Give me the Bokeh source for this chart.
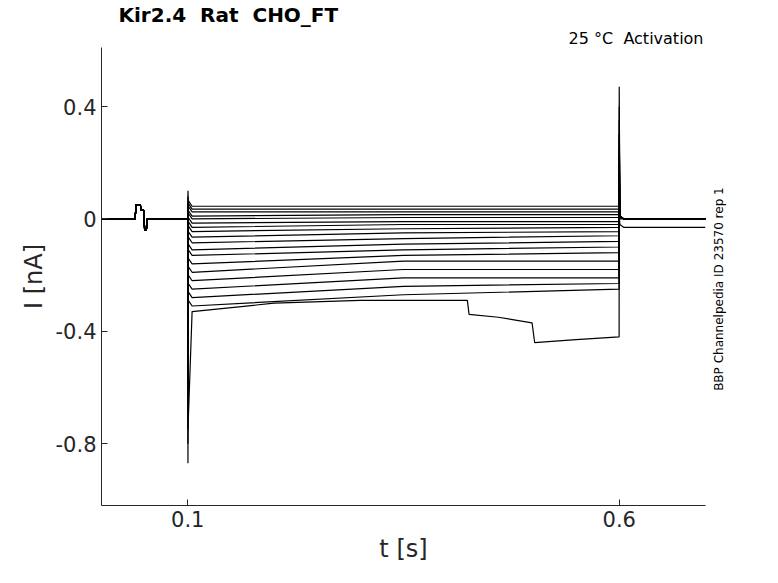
from bokeh.plotting import figure
from bokeh.models import FixedTicker, LinearAxis, Title
from bokeh.embed import file_html
from bokeh.resources import INLINE

# step levels (nA) for each sweep: at step start, middle, and end of step
level_start = [0.045, 0.035, 0.025, 0.01, 0.0, -0.015, -0.03, -0.045, -0.065, -0.085, -0.11, -0.13, -0.16, -0.19, -0.22, -0.25, -0.28, -0.31]
level_mid   = [0.045, 0.035, 0.025, 0.015, 0.005, -0.01, -0.02, -0.035, -0.05, -0.07, -0.09, -0.11, -0.13, -0.15, -0.18, -0.21, -0.24, -0.27]
level_end   = [0.045, 0.035, 0.025, 0.015, 0.005, -0.01, -0.02, -0.03, -0.045, -0.06, -0.08, -0.10, -0.12, -0.15, -0.18, -0.21, -0.23, -0.25]
onset_spike = [0.10, 0.08, 0.06, 0.04, 0.02, 0.0, -0.05, -0.1, -0.15, -0.2, -0.25, -0.3, -0.4, -0.5, -0.6, -0.7, -0.8, -0.87]
offset_spike = [0.47, 0.4, 0.35, 0.3, 0.25, 0.2, 0.18, 0.15, 0.12, 0.1, 0.08, 0.06, 0.05, 0.04, 0.03, 0.02, 0.02, 0.01]
tail_level  = [0.0] * 17 + [-0.03]

# irregular sweep with drops
odd_t = [0.1, 0.1002, 0.105, 0.2, 0.3, 0.424, 0.426, 0.46, 0.499, 0.502, 0.55, 0.5999, 0.6, 0.601, 0.605, 0.7]
odd_i = [0.0, -0.75, -0.33, -0.3, -0.29, -0.29, -0.34, -0.35, -0.37, -0.44, -0.43, -0.42, 0.3, 0.0, 0.0, 0.0]

pre_t = [0.0, 0.039, 0.040, 0.045, 0.046, 0.049, 0.050, 0.052, 0.053, 0.0995]
pre_i = [0.0, 0.0, 0.05, 0.05, 0.03, 0.03, -0.04, -0.04, 0.0, 0.0]

NB = "\u00a0"
p = figure(width=760, height=565, output_backend="svg", toolbar_location=None,
           x_range=(0.0, 0.7), y_range=(-1.02, 0.61),
           min_border_left=101, min_border_right=55, min_border_top=40, min_border_bottom=53)
p.title.visible = False
p.outline_line_color = None
p.xgrid.visible = False
p.ygrid.visible = False

sub = Title(text="25 °C" + NB + NB + "Activation", align="right", text_font="DejaVu Sans",
            text_font_size="16px", text_font_style="normal", text_color="black", standoff=0, offset=2)
main = Title(text="Kir2.4" + NB + NB + "Rat" + NB + NB + "CHO_FT", align="left", text_font="DejaVu Sans",
             text_font_size="20px", text_font_style="bold", text_color="black", offset=17, standoff=0)
p.add_layout(sub, "above")
p.add_layout(main, "above")

for k in range(len(level_start)):
    t = pre_t + [0.1, 0.1002, 0.1006, 0.105, 0.35, 0.5999, 0.6, 0.6008, 0.605, 0.7]
    i = pre_i + [0.0, onset_spike[k], level_start[k] + 0.02, level_start[k], level_mid[k], level_end[k],
                 offset_spike[k], tail_level[k] + 0.01, tail_level[k], tail_level[k]]
    p.line(t, i, color="black", line_width=1.2)
p.line(odd_t, odd_i, color="black", line_width=1.2)

for ax in (p.xaxis[0], p.yaxis[0]):
    ax.major_label_text_font = "DejaVu Sans"
    ax.major_label_text_font_size = "21px"
    ax.major_label_text_color = "#262626"
    ax.axis_label_text_font = "DejaVu Sans"
    ax.axis_label_text_font_size = "24px"
    ax.axis_label_text_font_style = "normal"
    ax.axis_label_text_color = "#262626"
    ax.axis_line_color = "#262626"
    ax.major_tick_line_color = "#262626"
    ax.major_tick_in = 6
    ax.major_tick_out = 0
    ax.minor_tick_line_color = None

p.xaxis.ticker = FixedTicker(ticks=[0.1, 0.6])
p.yaxis.ticker = FixedTicker(ticks=[-0.8, -0.4, 0, 0.4])
p.xaxis.major_label_overrides = {0.1: "0.1", 0.6: "0.6"}
p.yaxis.major_label_overrides = {0: "0", 0.4: "0.4", -0.4: "-0.4", -0.8: "-0.8"}
p.xaxis.axis_label = "t [s]"
p.yaxis.axis_label = "I [nA]"

rax = LinearAxis(ticker=FixedTicker(ticks=[-0.612]),
                 major_label_overrides={-0.612: "BBP Channelpedia ID 23570 rep 1"},
                 major_label_orientation=1.5708, major_label_standoff=8,
                 axis_line_color=None, major_tick_line_color=None, minor_tick_line_color=None,
                 major_label_text_font="DejaVu Sans", major_label_text_font_size="12px",
                 major_label_text_color="black")
p.add_layout(rax, "right")

open("out.html", "w").write(file_html(p, INLINE))
